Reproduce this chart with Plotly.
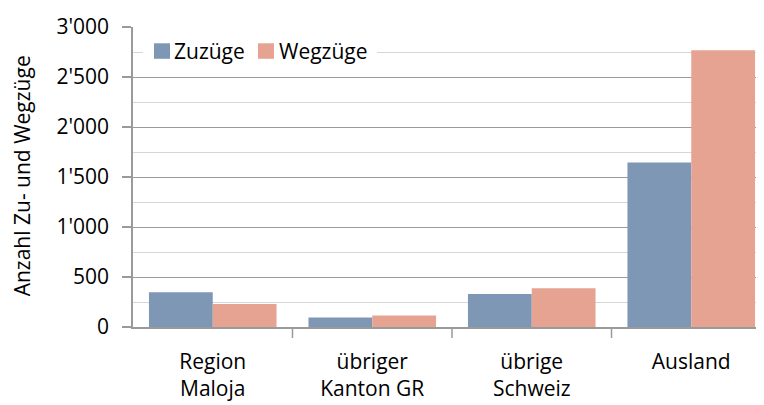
import plotly.graph_objects as go

categories = ["Region<br>Maloja", "übriger<br>Kanton GR", "übrige<br>Schweiz", "Ausland"]
zuzuege = [347, 94, 330, 1644]
wegzuege = [230, 114, 387, 2767]
y_ticks = [0, 500, 1000, 1500, 2000, 2500, 3000]
y_tick_labels = ["0", "500", "1'000", "1'500", "2'000", "2'500", "3'000"]
series_names = ["Zuzüge", "Wegzüge"]
series_colors = ["#7E97B4", "#E6A392"]

FONT = "Open Sans"
FS = 21
OFF = 8  # page body margin
W, H = 764 - OFF, 405 - OFF
PL, PT, PB = 133, 26.7, 326.7   # plot area in page pixels
plot_w = 764 - PL
plot_h = PB - PT


def px(x):
    return (x - PL) / plot_w


def py(y):
    return (PB - y) / plot_h


fig = go.Figure()
for name, vals, col in zip(series_names, [zuzuege, wegzuege], series_colors):
    fig.add_trace(go.Bar(name=name, x=list(range(len(categories))), y=vals,
                         marker=dict(color=col, line=dict(width=0)), showlegend=False))

cat_w = 159.5
xmax = -0.5 + plot_w / cat_w

fig.update_layout(
    width=W, height=H,
    margin=dict(l=PL - OFF, r=0, t=PT - OFF, b=H - (PB - OFF), autoexpand=False),
    paper_bgcolor="white", plot_bgcolor="white",
    barmode="group", bargap=0.2, bargroupgap=0,
    font=dict(family=FONT, size=FS, color="black"),
    xaxis=dict(
        range=[-0.5, xmax], tickmode="array", tickvals=list(range(4)), ticktext=categories,
        showline=True, linecolor="#9a9a9a", linewidth=1.5,
        ticks="", showgrid=False, zeroline=False, fixedrange=True,
        tickfont=dict(size=FS, family=FONT, color="black"),
        ticklabelstandoff=15,
    ),
    yaxis=dict(
        range=[0, 3000], tickmode="array", tickvals=y_ticks, ticktext=y_tick_labels,
        showline=True, linecolor="#9a9a9a", linewidth=1.5,
        ticks="outside", ticklen=9, tickcolor="#9a9a9a", tickwidth=1.5,
        showgrid=True, gridcolor="#9a9a9a", gridwidth=1.2, zeroline=False,
        minor=dict(dtick=250, tick0=0, showgrid=True, gridcolor="#d6d6d6", gridwidth=1.2, ticks=""),
        tickfont=dict(size=FS, family=FONT, color="black"),
        ticklabelstandoff=9,
    ),
)

# category boundary ticks on x axis
for b in [0.5, 1.5, 2.5]:
    fig.add_shape(type="line", xref="x", yref="paper", x0=b, x1=b, y0=0, y1=-11 / plot_h,
                  line=dict(color="#9a9a9a", width=1.5))

# legend (drawn inside the plot, top-left, white background)
fig.add_shape(type="rect", xref="paper", yref="paper", x0=px(143), x1=px(377), y0=py(64), y1=py(38),
              fillcolor="white", line=dict(width=0), layer="above")
legend_items = [(154, 172), (258, 277)]
for (sx, tx), name, col in zip(legend_items, series_names, series_colors):
    fig.add_shape(type="rect", xref="paper", yref="paper", x0=px(sx), x1=px(sx + 16),
                  y0=py(58.5), y1=py(43), fillcolor=col, line=dict(width=0), layer="above")
    fig.add_annotation(text=name, xref="paper", yref="paper", x=px(tx), y=py(51),
                       xanchor="left", yanchor="middle", showarrow=False,
                       font=dict(size=FS, family=FONT, color="black"))

fig.add_annotation(text="Anzahl Zu- und Wegzüge", textangle=-90,
                   xref="paper", yref="paper", x=px(22), y=py(176),
                   xanchor="center", yanchor="middle", showarrow=False,
                   font=dict(size=FS, family=FONT, color="black"))

fig.write_html("out.html")
